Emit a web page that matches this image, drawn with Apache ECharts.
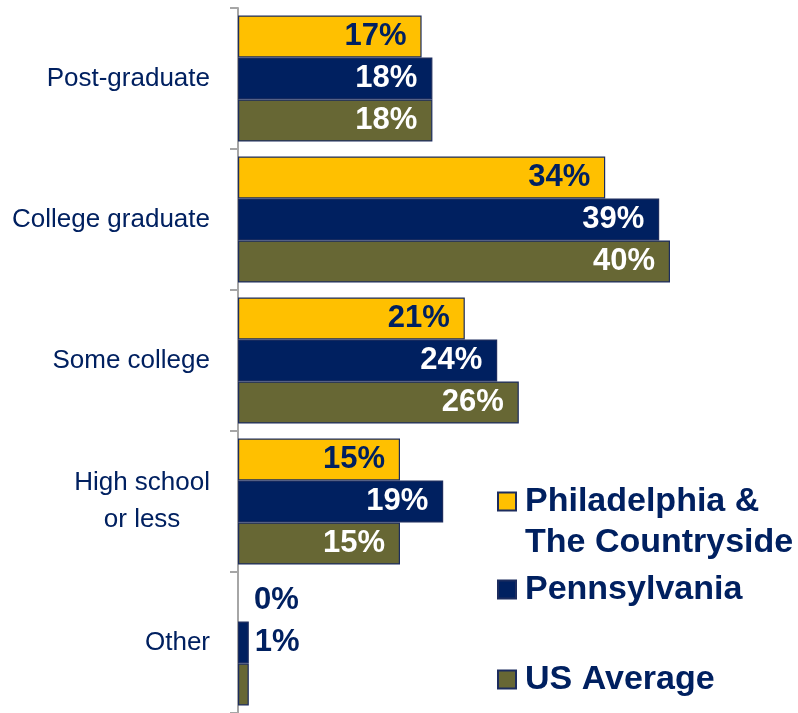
<!DOCTYPE html>
<html>
<head>
<meta charset="utf-8">
<script src="https://cdn.jsdelivr.net/npm/echarts@6/dist/echarts.min.js"></script>
<style>
  html, body { margin: 0; padding: 0; background: #ffffff; }
  #chart { width: 798px; height: 713px; }
</style>
</head>
<body>
<div id="chart"></div>
<script>
// Educational attainment, share of respondents (%)
const categories = ['Post-graduate', 'College graduate', 'Some college', 'High school\nor less', 'Other'];
const seriesNames = ['Philadelphia & The Countryside', 'Pennsylvania', 'US Average'];
const phillyValues = [17, 34, 21, 15, 0];
const pennValues = [18, 39, 24, 19, 1];
const usValues = [18, 40, 26, 15, 1];

const NAVY = '#002060';
const YELLOW = '#FFC000';
const OLIVE = '#676734';
const BORDER = '#1C2C5E';

const colors = [YELLOW, NAVY, OLIVE];
const insideLabelColors = [NAVY, '#ffffff', '#ffffff'];
const valueSets = [phillyValues, pennValues, usValues];

const labelFont = 'Liberation Sans, Arial, sans-serif';

function buildSeries(idx) {
  return {
    name: seriesNames[idx],
    type: 'bar',
    barWidth: 42,
    barGap: '0%',
    itemStyle: { color: colors[idx], borderColor: BORDER, borderWidth: 1.2 },
    data: valueSets[idx].map((v) => {
      const item = { value: v };
      if (v < 5) {
        // tiny bars carry their label outside, to the right
        item.label = { position: 'right', distance: v === 0 ? 16 : 6, color: NAVY };
        // the US figure for "Other" has no printed value
        if (idx === 2) item.label.show = false;
      }
      if (v === 0) item.itemStyle = { borderWidth: 0 };
      return item;
    }),
    label: {
      show: true,
      position: 'insideRight',
      distance: 15,
      formatter: '{c}%',
      color: insideLabelColors[idx],
      fontFamily: labelFont,
      fontWeight: 'bold',
      fontSize: 31
    }
  };
}

const legendText = {
  color: NAVY,
  fontFamily: labelFont,
  fontWeight: 'bold',
  fontSize: 34,
  lineHeight: 41
};

function legendFor(idx, top, formatter) {
  return {
    data: [seriesNames[idx]],
    orient: 'vertical',
    left: 497,
    top: top,
    padding: 0,
    itemWidth: 18,
    itemHeight: 18,
    itemGap: 0,
    icon: 'rect',
    selectedMode: false,
    formatter: formatter,
    textStyle: Object.assign({
      rich: { t: Object.assign({ padding: [0, 0, 0, 4] }, legendText) }
    }, legendText)
  };
}

// the square sits beside the first line of the two-line name: an empty
// leading line balances the block around the marker
const twoLineName = name => '{t| }\n{t|' + name.replace(' & ', ' &}\n{t|') + '}';
const oneLineName = name => '{t|' + name + '}';

const chart = echarts.init(document.getElementById('chart'), null, { renderer: 'canvas' });
chart.setOption({
  animation: false,
  backgroundColor: '#ffffff',
  grid: { left: 238, top: 8, width: 540, height: 705, containLabel: false, outerBoundsMode: 'none' },
  xAxis: {
    type: 'value',
    min: 0,
    max: 50,
    show: false
  },
  yAxis: {
    type: 'category',
    inverse: true,
    data: categories,
    axisLine: { show: true, lineStyle: { color: '#A6A6A6', width: 2 } },
    axisTick: { show: true, inside: false, length: 8, lineStyle: { color: '#A6A6A6', width: 2 } },
    axisLabel: {
      margin: 28,
      color: NAVY,
      fontFamily: labelFont,
      fontSize: 26,
      formatter: v => v.split('\n').map(s => '{c|' + s + '}').join('\n'),
      rich: {
        c: { align: 'center', color: NAVY, fontSize: 26, lineHeight: 37, fontFamily: labelFont }
      }
    },
    splitLine: { show: false }
  },
  legend: [
    legendFor(0, 440, twoLineName),
    legendFor(1, 569, oneLineName),
    legendFor(2, 659, oneLineName)
  ],
  series: [buildSeries(0), buildSeries(1), buildSeries(2)]
});
</script>
</body>
</html>
